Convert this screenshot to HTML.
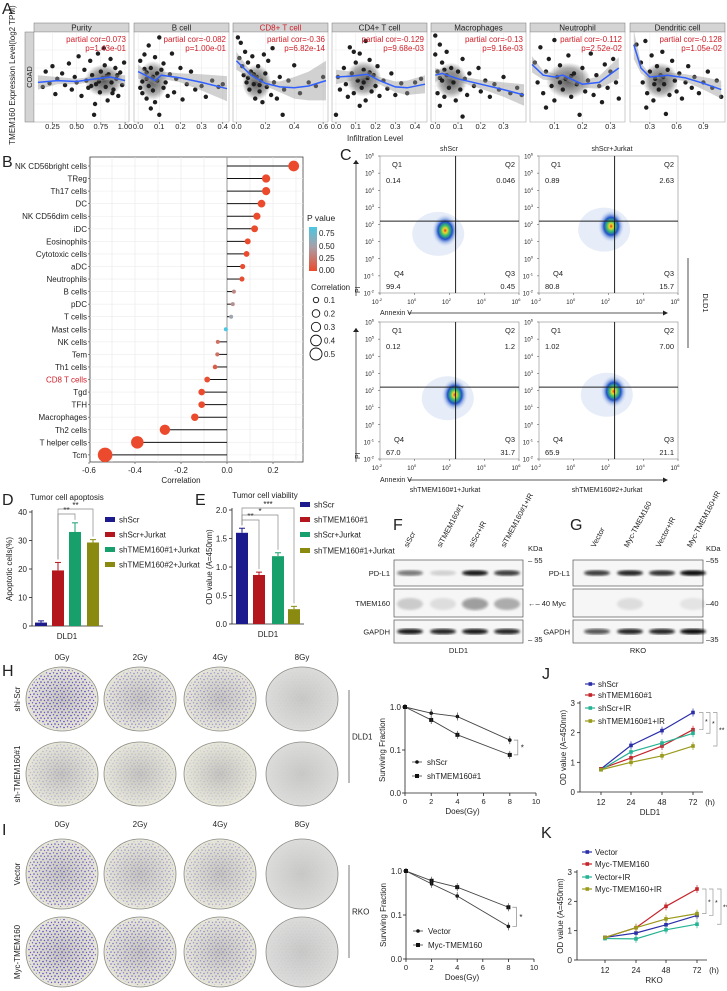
<!DOCTYPE html>
<html><head><meta charset="utf-8">
<style>
html,body{margin:0;padding:0;background:#fff;}
svg{display:block;font-family:"Liberation Sans",Arial,sans-serif;}
</style></head>
<body>
<svg id="fig" width="727" height="991" viewBox="0 0 727 991" xmlns="http://www.w3.org/2000/svg">
<defs>
<linearGradient id="pgrad" x1="0" y1="0" x2="0" y2="1"><stop offset="0" stop-color="#4cc6e2"/><stop offset="0.45" stop-color="#a8a0a8"/><stop offset="1" stop-color="#ec4a2c"/></linearGradient>
<radialGradient id="plateG"><stop offset="0" stop-color="#c4c4be"/><stop offset="0.8" stop-color="#e0e0d4"/><stop offset="1" stop-color="#e8e7da"/></radialGradient>
<radialGradient id="plate8"><stop offset="0" stop-color="#c8c8c6"/><stop offset="1" stop-color="#dcdcda"/></radialGradient>
<radialGradient id="blobG"><stop offset="0" stop-color="#e33a1a"/><stop offset="0.15" stop-color="#f2d52a"/><stop offset="0.32" stop-color="#3cc06a"/><stop offset="0.55" stop-color="#2050c8"/><stop offset="0.78" stop-color="#7fa0e0" stop-opacity="0.5"/><stop offset="1" stop-color="#c0d0f0" stop-opacity="0"/></radialGradient>
<radialGradient id="cloudG"><stop offset="0" stop-color="#1e1e1e" stop-opacity="0.75"/><stop offset="0.7" stop-color="#1e1e1e" stop-opacity="0.35"/><stop offset="1" stop-color="#1e1e1e" stop-opacity="0"/></radialGradient>
<pattern id="colony" width="7" height="6" patternUnits="userSpaceOnUse"><circle cx="1" cy="1.5" r="0.8" fill="#5440c8"/><circle cx="4.5" cy="0.8" r="0.7" fill="#6a48c8"/><circle cx="6" cy="4" r="0.8" fill="#4a3cc0"/><circle cx="2.5" cy="4.5" r="0.7" fill="#7a50c8"/></pattern>
<filter id="blur1"><feGaussianBlur stdDeviation="1.2"/></filter>
</defs>
</svg>
<script>
// ---------------- DATA ----------------
const aTitles = ['Purity','B cell','CD8+ T cell','CD4+ T cell','Macrophages','Neutrophil','Dendritic cell'];
const aCor = ['partial cor=0.073','partial cor=-0.082','partial cor=-0.36','partial cor=-0.129','partial cor=-0.13','partial cor=-0.112','partial cor=-0.128'];
const aPval = ['p=1.43e-01','p=1.00e-01','p=6.82e-14','p=9.68e-03','p=9.16e-03','p=2.52e-02','p=1.05e-02'];
const aDomain = [[0.08,1.02],[-0.01,0.42],[-0.01,0.62],[-0.01,0.45],[-0.01,0.39],[0.02,0.345],[0.1,1.12]];
const aTicks = [[0.25,0.5,0.75,1.0],[0,0.1,0.2,0.3,0.4],[0,0.2,0.4,0.6],[0,0.1,0.2,0.3,0.4],[0,0.1,0.2,0.3],[0.1,0.2,0.3],[0.3,0.6,0.9]];
const aTickLabels = [['0.25','0.50','0.75','1.00'],['0.0','0.1','0.2','0.3','0.4'],['0.0','0.2','0.4','0.6'],['0.0','0.1','0.2','0.3','0.4'],['0.0','0.1','0.2','0.3'],['0.1','0.2','0.3'],['0.3','0.6','0.9']];
// dense-cloud centre [x, y, x-spread, y-spread] in data units
const aCloud = [[0.78,4.6,0.2,1.8],[0.07,4.6,0.07,2.2],[0.14,4.4,0.1,2.0],[0.14,4.8,0.09,2.0],[0.07,4.6,0.07,2.0],[0.15,4.6,0.08,2.0],[0.42,4.6,0.2,2.0]];
const aPts = [
[[0.15,3.9],[0.18,5.6],[0.22,4.3],[0.25,6.2],[0.28,3.1],[0.3,4.8],[0.35,5.4],[0.38,4.1],[0.42,6.5],[0.45,3.6],[0.48,5.0],[0.5,4.4],[0.52,7.3],[0.55,2.9],[0.58,5.8],[0.6,4.6],[0.62,3.8],[0.64,6.8],[0.66,5.2],[0.68,0.8],[0.7,4.2],[0.72,7.6],[0.74,3.3],[0.75,5.6],[0.77,4.9],[0.79,6.3],[0.8,3.9],[0.82,2.4],[0.83,5.3],[0.85,7.0],[0.86,4.4],[0.88,3.6],[0.9,6.0],[0.91,4.8],[0.93,2.9],[0.95,5.5],[0.97,4.1],[0.99,6.6],[0.78,8.2],[0.69,2.0],[0.73,4.5],[0.81,5.1],[0.87,3.2],[0.65,4.0],[0.92,5.2]],
[[0.01,6.8],[0.02,4.5],[0.02,3.2],[0.03,7.5],[0.04,5.5],[0.04,2.6],[0.05,8.5],[0.05,4.0],[0.06,6.0],[0.07,3.5],[0.07,5.0],[0.08,7.2],[0.08,2.2],[0.09,4.6],[0.1,9.4],[0.1,0.8],[0.11,5.8],[0.12,3.8],[0.12,6.5],[0.13,4.4],[0.14,2.9],[0.15,5.3],[0.16,7.6],[0.17,3.3],[0.18,4.8],[0.2,6.0],[0.21,2.5],[0.23,4.2],[0.25,5.6],[0.27,3.6],[0.3,4.0],[0.32,2.8],[0.35,4.6],[0.38,3.9],[0.4,4.2],[0.03,5.9],[0.06,1.5],[0.04,4.8],[0.09,5.4],[0.01,3.8]],
[[0.01,9.4],[0.02,7.1],[0.03,8.8],[0.04,6.2],[0.05,5.2],[0.06,7.8],[0.07,4.4],[0.08,6.6],[0.09,3.6],[0.1,5.6],[0.11,7.3],[0.12,4.2],[0.13,2.6],[0.14,5.0],[0.15,6.2],[0.16,3.4],[0.17,4.6],[0.18,2.2],[0.2,5.4],[0.21,3.9],[0.22,6.8],[0.24,3.0],[0.26,4.4],[0.28,2.6],[0.3,5.0],[0.32,0.8],[0.33,3.6],[0.36,4.6],[0.4,6.3],[0.44,3.2],[0.5,4.4],[0.55,4.0],[0.6,5.0],[0.19,7.5],[0.25,8.2],[0.08,4.9],[0.12,5.3],[0.16,4.1]],
[[0.0,0.8],[0.01,5.0],[0.02,3.6],[0.04,6.0],[0.05,4.2],[0.06,2.8],[0.07,8.3],[0.08,5.4],[0.09,3.2],[0.1,6.6],[0.11,4.6],[0.12,7.6],[0.13,3.8],[0.14,5.8],[0.15,9.0],[0.15,2.4],[0.16,4.9],[0.17,6.9],[0.18,3.4],[0.19,5.2],[0.2,4.0],[0.21,6.2],[0.22,2.9],[0.24,4.6],[0.26,3.7],[0.28,5.4],[0.3,3.0],[0.33,4.3],[0.36,3.2],[0.4,4.4],[0.43,4.8],[0.12,1.8],[0.09,7.8],[0.14,4.4],[0.17,5.5]],
[[0.0,9.6],[0.0,7.5],[0.01,5.6],[0.01,3.2],[0.02,8.6],[0.02,1.8],[0.03,4.6],[0.03,6.6],[0.04,2.8],[0.05,5.2],[0.05,7.8],[0.06,3.8],[0.07,6.0],[0.08,4.4],[0.09,2.4],[0.1,5.6],[0.11,3.6],[0.12,7.0],[0.13,4.8],[0.14,3.0],[0.15,5.4],[0.17,4.0],[0.19,6.0],[0.2,3.4],[0.22,4.6],[0.24,2.8],[0.26,4.2],[0.28,3.6],[0.3,5.0],[0.33,3.2],[0.36,3.8],[0.38,3.0],[0.12,0.6],[0.02,4.9],[0.04,5.8]],
[[0.03,6.6],[0.04,4.4],[0.05,8.3],[0.06,3.2],[0.07,5.6],[0.08,7.0],[0.09,4.0],[0.1,9.1],[0.1,2.4],[0.11,5.0],[0.12,6.3],[0.13,3.6],[0.14,4.8],[0.15,7.4],[0.16,2.8],[0.17,5.4],[0.18,4.2],[0.19,0.8],[0.2,6.0],[0.21,3.4],[0.22,4.6],[0.23,7.6],[0.24,3.0],[0.25,5.2],[0.26,4.0],[0.27,2.2],[0.28,6.4],[0.29,3.8],[0.3,5.6],[0.31,7.0],[0.32,4.4],[0.33,2.6],[0.07,1.6],[0.12,4.4],[0.16,5.1]],
[[0.15,8.6],[0.2,6.6],[0.22,4.4],[0.25,9.0],[0.27,3.2],[0.3,5.6],[0.32,7.4],[0.34,2.4],[0.36,4.8],[0.38,6.2],[0.4,3.6],[0.42,5.2],[0.44,7.8],[0.46,4.2],[0.48,0.9],[0.5,5.8],[0.52,3.0],[0.55,6.8],[0.58,4.6],[0.6,3.4],[0.63,5.4],[0.66,2.6],[0.7,4.4],[0.73,6.2],[0.77,3.8],[0.8,5.0],[0.85,3.2],[0.9,4.4],[0.95,5.6],[1.0,3.8],[1.05,4.6],[1.1,2.8],[0.26,1.6],[0.35,4.2],[0.45,5.0]]
];
const aLoessX = [[0.1,0.3,0.5,0.7,0.85,1.0],[0,0.05,0.08,0.11,0.2,0.3,0.42],[0,0.1,0.2,0.3,0.4,0.5,0.62],[0,0.08,0.16,0.22,0.3,0.36,0.45],[0,0.03,0.1,0.2,0.3,0.39],[0.02,0.06,0.1,0.13,0.2,0.26,0.33],[0.12,0.2,0.3,0.5,0.7,0.9,1.1]];
const aLoessY = [[4.4,4.6,4.5,4.8,5.0,4.6],[5.6,5.0,4.6,5.2,4.9,4.4,3.7],[6.8,5.2,4.3,3.9,3.8,4.0,4.6],[5.0,5.1,5.3,4.6,3.9,3.8,4.2],[5.2,5.4,4.8,4.2,3.6,3.0],[6.4,5.2,5.0,5.2,4.2,4.4,6.0],[8.6,6.0,5.0,5.2,4.9,4.3,3.6]];
const aBand = [[0.8,0.4,0.3,0.3,0.3,0.6],[0.8,0.4,0.4,0.4,0.5,0.9,1.4],[1.0,0.4,0.3,0.6,1.2,1.6,2.2],[0.8,0.5,0.4,0.4,0.6,0.8,1.0],[0.8,0.4,0.3,0.5,0.8,1.2],[0.9,0.5,0.4,0.4,0.4,0.7,1.2],[1.6,0.6,0.3,0.3,0.4,0.7,1.0]];

const bCells = ['NK CD56bright cells','TReg','Th17 cells','DC','NK CD56dim cells','iDC','Eosinophils','Cytotoxic cells','aDC','Neutrophils','B cells','pDC','T cells','Mast cells','NK cells','Tem','Th1 cells','CD8 T cells','Tgd','TFH','Macrophages','Th2 cells','T helper cells','Tcm'];
const bCorr = [0.29,0.17,0.17,0.15,0.13,0.12,0.09,0.085,0.068,0.065,0.03,0.025,0.018,-0.005,-0.04,-0.042,-0.052,-0.086,-0.11,-0.11,-0.14,-0.27,-0.39,-0.53];
const bPval = [0,0,0,0,0,0,0,0,0.02,0.02,0.35,0.4,0.55,0.9,0.22,0.22,0.1,0.03,0,0,0,0,0,0];
const bTicks = [-0.6,-0.4,-0.2,0.0,0.2];

const cTitles = ['shScr','shScr+Jurkat','shTMEM160#1+Jurkat','shTMEM160#2+Jurkat'];
const cQ1 = ['0.14','0.89','0.12','1.02'];
const cQ2 = ['0.046','2.63','1.2','7.00'];
const cQ3 = ['0.45','15.7','31.7','21.1'];
const cQ4 = ['99.4','80.8','67.0','65.9'];
const cBlobX = [1.75,2.15,2.3,2.3];
const cBlobY = [1.65,1.9,1.75,1.95];

const dGroups = ['shScr','shScr+Jurkat','shTMEM160#1+Jurkat','shTMEM160#2+Jurkat'];
const dVals = [1.2,19.5,33.0,29.3];
const dErr = [0.6,2.8,3.2,1.0];
const dTicks = [0,10,20,30,40];
const eGroups = ['shScr','shTMEM160#1','shScr+Jurkat','shTMEM160#1+Jurkat'];
const eVals = [1.6,0.86,1.19,0.26];
const eErr = [0.08,0.05,0.06,0.05];
const eTicks = [0,0.5,1.0,1.5,2.0];
const barColors = ['#1b1b8e','#b3161c','#17a06c','#8a8a10'];

const fLanes = ['siScr','siTMEM160#1','siScr+IR','siTMEM160#1+IR'];
const fPDL1 = [0.55,0.15,0.95,0.8];
const fTMEM = [0.35,0.2,0.8,0.6];
const fGAPDH = [0.95,0.9,0.95,0.9];
const gLanes = ['Vector','Myc-TMEM160','Vector+IR','Myc-TMEM160+IR'];
const gPDL1 = [0.8,0.9,0.85,1.0];
const gMyc = [0,0.2,0,0.15];
const gGAPDH = [0.7,0.9,0.9,1.0];

const doses = ['0Gy','2Gy','4Gy','8Gy'];
const hRow1 = [1.0,0.55,0.5,0.03];
const hRow2 = [0.3,0.22,0.16,0.02];
const iRow1 = [0.85,0.45,0.4,0.02];
const iRow2 = [1.0,0.7,0.55,0.05];

const survDose = [0,2,4,8];
const hScr = [1.0,0.72,0.6,0.17];
const hTM = [1.0,0.5,0.225,0.077];
const iVec = [1.0,0.51,0.27,0.055];
const iMyc = [1.0,0.6,0.43,0.15];

const timeCats = ['12','24','48','72'];
const jScr = [0.78,1.57,2.07,2.68];
const jTM = [0.78,1.15,1.55,2.1];
const jScrIR = [0.75,1.35,1.65,1.98];
const jTMIR = [0.75,1.0,1.22,1.55];
const kVec = [0.77,0.92,1.2,1.52];
const kMyc = [0.77,1.1,1.83,2.42];
const kVecIR = [0.73,0.72,1.03,1.22];
const kMycIR = [0.77,1.1,1.4,1.58];
const lineColors = ['#2a2ea8','#c4252b','#26b394','#9a9a1c'];

// ---------------- HELPERS ----------------
const NS='http://www.w3.org/2000/svg';
const svg=document.getElementById('fig');
function el(tag,attrs,parent){const e=document.createElementNS(NS,tag);for(const k in attrs)e.setAttribute(k,attrs[k]);(parent||svg).appendChild(e);return e;}
function nm(e,n){
  
  
  return e;}
function grp(n){const g=el('g',{});nm(g,n);return g;}
function T(p,x,y,s,size,opt){opt=opt||{};const t=el('text',{x:x,y:y,'font-size':size,fill:opt.fill||'#222','text-anchor':opt.anchor||'start'},p);if(opt.rot!==undefined)t.setAttribute('transform','rotate('+opt.rot+' '+x+' '+y+')');t.textContent=s;nm(t,opt.name||'label');return t;}
function L(p,x1,y1,x2,y2,c,w,n){const l=el('line',{x1:x1,y1:y1,x2:x2,y2:y2,stroke:c||'#222','stroke-width':w||0.8},p);nm(l,n||'line');return l;}
function lin(d0,d1,r0,r1){return v=>r0+(v-d0)/(d1-d0)*(r1-r0);}

[['A',2,14],['B',2,167],['C',340,160],['D',2,505],['E',195,505],['F',393,530],['G',570,530],['H',2,676],['I',2,835],['J',542,679],['K',541,838]].forEach(a=>{T(svg,a[1],a[2],a[0],16,{name:'panel-label-'+a[0].toLowerCase()});});

// ---------------- PANEL A ----------------
(function(){
  const g=grp('panel-a-scatter');
  const lefts=[34,134,233,332,431,530,630], W=95, top=32, bot=122;
  const ys=lin(0,10,bot,top);
  T(g,15,75,'TMEM160 Expression Level(log2 TPM)',8,{anchor:'middle',rot:-90,name:'y-axis-title'});
  const cs=el('rect',{x:25,y:top,width:9,height:bot-top,fill:'#d4d4d4',stroke:'#777','stroke-width':0.5},g);nm(cs,'coad-strip');
  T(g,32,77,'COAD',7.5,{anchor:'middle',rot:-90,name:'coad-label'});
  aTitles.forEach((title,i)=>{
    const x0=lefts[i], xs=lin(aDomain[i][0],aDomain[i][1],x0+2,x0+W-2);
    const pg=grp('facet-'+title.toLowerCase().replace(/[^a-z0-9]+/g,'-'));
    const s=el('rect',{x:x0,y:23,width:W,height:9,fill:'#d4d4d4',stroke:'#777','stroke-width':0.5},pg);nm(s,'facet-strip');
    T(pg,x0+W/2,30.5,title,8,{anchor:'middle',fill:i==2?'#d0202a':'#222',name:'facet-title'});
    const pr=el('rect',{x:x0,y:top,width:W,height:bot-top,fill:'#fff',stroke:'#999','stroke-width':0.5},pg);nm(pr,'plot-area');
    aTicks[i].forEach((t,k)=>{const x=xs(t);L(pg,x,top,x,bot,'#ebebeb',0.6,'grid-x');L(pg,x,bot,x,bot+2,'#444',0.6,'x-tick');T(pg,x,129,aTickLabels[i][k],7.5,{anchor:'middle',name:'x-tick-label'});});
    [2,4,6,8].forEach(v=>L(pg,x0,ys(v),x0+W,ys(v),'#ebebeb',0.6,'grid-y'));
    const cl=aCloud[i];
    const cel=el('ellipse',{cx:xs(cl[0]),cy:ys(cl[1]),rx:Math.abs(xs(cl[0]+cl[2])-xs(cl[0])),ry:Math.abs(ys(cl[1]+cl[3])-ys(cl[1])),fill:'url(#cloudG)'},pg);nm(cel,'dense-point-cloud');
    aPts[i].forEach(p=>{const c=el('circle',{cx:xs(p[0]),cy:ys(p[1]),r:2.2,fill:'#1e1e1e'},pg);nm(c,'scatter-point');});
    const lx=aLoessX[i], ly=aLoessY[i], b=aBand[i];
    let d='M'+lx.map((x,k)=>xs(x)+','+ys(ly[k]+b[k])).join(' L')+' L'+lx.map((x,k)=>xs(x)+','+ys(ly[k]-b[k])).reverse().join(' L')+'Z';
    const rb=el('path',{d:d,fill:'#999','fill-opacity':0.45},pg);nm(rb,'confidence-ribbon');
    const ln=el('polyline',{points:lx.map((x,k)=>xs(x)+','+ys(ly[k])).join(' '),fill:'none',stroke:'#3060ff','stroke-width':1.5},pg);nm(ln,'loess-line');
    T(pg,x0+W-3,42,aCor[i],8,{anchor:'end',fill:'#d0202a',name:'partial-cor'});
    T(pg,x0+W-3,51,aPval[i],8,{anchor:'end',fill:'#d0202a',name:'p-value'});
  });
  T(g,375,141,'Infiltration Level',8,{anchor:'middle',name:'x-axis-title'});
})();

// ---------------- PANEL B ----------------
(function(){
  const g=grp('panel-b-lollipop');
  const x0=90,x1=303,top=157,bot=462;
  const xs=lin(0,1,227,227+230);
  const ys=i=>166+i*12.56;
  const fr=el('rect',{x:x0,y:top,width:x1-x0,height:bot-top,fill:'#fff',stroke:'#444','stroke-width':0.8},g);nm(fr,'plot-area');
  [-0.6,-0.5,-0.4,-0.3,-0.2,-0.1,0.1,0.2,0.3].forEach(v=>L(g,xs(v),top,xs(v),bot,'#e6e6e6',0.6,'grid-x'));
  bCells.forEach((c,i)=>L(g,x0,ys(i),x1,ys(i),'#ececec',0.6,'grid-y'));
  L(g,xs(0),top,xs(0),bot,'#9a9a9a',1,'zero-line');
  function pcol(p){const a=[236,74,44],m=[168,160,168],c=[76,198,226];let t,u,v;if(p<0.5){t=p/0.5;u=a;v=m;}else{t=Math.min(1,(p-0.5)/0.4);u=m;v=c;}return 'rgb('+u.map((q,k)=>Math.round(q+(v[k]-q)*t)).join(',')+')';}
  bCells.forEach((c,i)=>{
    const y=ys(i);
    L(g,x0-2,y,x0,y,'#444',0.6,'y-tick');
    T(g,x0-3,y+3,c,8,{anchor:'end',fill:c==='CD8 T cells'?'#d0202a':'#222',name:'cell-label'});
    L(g,xs(0),y,xs(bCorr[i]),y,'#111',1,'lollipop-stem');
    const dot=el('circle',{cx:xs(bCorr[i]),cy:y,r:Math.max(2,Math.sqrt(Math.abs(bCorr[i]))*10),fill:pcol(bPval[i])},g);nm(dot,'lollipop-dot');
  });
  bTicks.forEach(t=>{L(g,xs(t),bot,xs(t),bot+2,'#444',0.6,'x-tick');T(g,xs(t),473,t.toFixed(1),8,{anchor:'middle',name:'x-tick-label'});});
  T(g,xs(-0.2),483,'Correlation',8,{anchor:'middle',name:'x-axis-title'});
  const lg=grp('legend-b');
  T(lg,307,221,'P value',8.5,{name:'legend-title'});
  const gr=el('rect',{x:309,y:227,width:8,height:44,fill:'url(#pgrad)'},lg);nm(gr,'p-value-colorbar');
  [['0.75',236],['0.50',249],['0.25',261],['0.00',273]].forEach(a=>T(lg,319,a[1],a[0],8,{name:'colorbar-label'}));
  T(lg,311,290,'Correlation',8,{name:'legend-title'});
  [0.1,0.2,0.3,0.4,0.5].forEach((v,k)=>{const cy=300+k*13.5;const c=el('circle',{cx:316,cy:cy,r:Math.sqrt(v)*8.5,fill:'none',stroke:'#111','stroke-width':0.9},lg);nm(c,'size-legend-circle');T(lg,324,cy+3,String(v),8,{name:'size-legend-label'});});
})();

// ---------------- PANEL C ----------------
(function(){
  const g=grp('panel-c-flow');
  const boxes=[[380,156],[539,156],[380,322],[539,322]], W=139, H=137;
  cTitles.forEach((t,i)=>{
    const [x0,y0]=boxes[i];
    const pg=grp('flow-plot');
    const xs=lin(-2,6,x0,x0+W), ys=lin(-2,6,y0+H,y0);
    const r=el('rect',{x:x0,y:y0,width:W,height:H,fill:'#fff',stroke:'#888','stroke-width':0.6},pg);nm(r,'plot-area');
    const halo=el('ellipse',{cx:xs(cBlobX[i]-0.4),cy:ys(cBlobY[i]-0.2),rx:26,ry:22,fill:'#b8c8ea','fill-opacity':0.35},pg);nm(halo,'sparse-events');
    const b=el('ellipse',{cx:xs(cBlobX[i]),cy:ys(cBlobY[i]),rx:13,ry:16,fill:'url(#blobG)'},pg);nm(b,'cell-population');
    L(pg,xs(2.35),y0,xs(2.35),y0+H,'#222',1,'gate-vertical');
    L(pg,x0,ys(2.2),x0+W,ys(2.2),'#222',1,'gate-horizontal');
    for(let k=-2;k<=6;k++){L(pg,x0-2,ys(k),x0,ys(k),'#444',0.5,'y-tick');const t1=T(pg,x0-6,ys(k)+2.5,'10',6,{anchor:'end',name:'y-tick-label'});const s=el('tspan',{dy:-3,'font-size':4},t1);s.textContent=String(k);}
    for(let k=-2;k<=6;k+=2){L(pg,xs(k),y0+H,xs(k),y0+H+2,'#444',0.5,'x-tick');const t1=T(pg,xs(k)-3,y0+H+11,'10',6,{anchor:'middle',name:'x-tick-label'});const s=el('tspan',{dy:-3,'font-size':4},t1);s.textContent=String(k);}
    T(pg,x0+12,y0+11,'Q1',7.5,{name:'q1-label'});T(pg,x0+6,y0+27,cQ1[i],7.5,{name:'q1-value'});
    T(pg,x0+W-4,y0+11,'Q2',7.5,{anchor:'end',name:'q2-label'});T(pg,x0+W-4,y0+27,cQ2[i],7.5,{anchor:'end',name:'q2-value'});
    T(pg,x0+14,y0+H-17,'Q4',7.5,{name:'q4-label'});T(pg,x0+6,y0+H-4,cQ4[i],7.5,{name:'q4-value'});
    T(pg,x0+W-4,y0+H-17,'Q3',7.5,{anchor:'end',name:'q3-label'});T(pg,x0+W-4,y0+H-4,cQ3[i],7.5,{anchor:'end',name:'q3-value'});
  });
  T(g,449,151,cTitles[0],7,{anchor:'middle',name:'plot-title'});
  T(g,612,151,cTitles[1],7,{anchor:'middle',name:'plot-title'});
  T(g,445,492,cTitles[2],7,{anchor:'middle',name:'plot-title'});
  T(g,607,492,cTitles[3],7,{anchor:'middle',name:'plot-title'});
  [[296,160],[462,328]].forEach(a=>{L(g,356,a[0],356,a[1],'#222',0.7,'pi-axis-arrow');const p=el('path',{d:'M353,'+(a[1]+4)+' L356,'+a[1]+' L359,'+(a[1]+4)+'Z',fill:'#222'},g);nm(p,'arrow-head');T(g,360,a[0]-3,'PI',7,{rot:-90,name:'pi-label'});});
  [313,480].forEach(y=>{L(g,408,y,663,y,'#222',0.7,'annexin-axis-arrow');const p=el('path',{d:'M663,'+(y-2.5)+' L668,'+y+' L663,'+(y+2.5)+'Z',fill:'#222'},g);nm(p,'arrow-head');T(g,380,y+2,'Annexin V',7,{name:'annexin-label'});});
  L(g,688,258,688,348,'#222',0.8,'group-bracket');
  T(g,703,303,'DLD1',7.5,{anchor:'middle',rot:90,name:'cell-line-label'});
})();

// ---------------- PANEL D & E ----------------
function barChart(name,vals,errs,ticks,tickFmt,ax,yTop,yBot,dMax,centers,title,titleX,ylab,legendX,legendY,brackets,labels){
  const g=grp(name);
  const ys=lin(0,dMax,yBot,yTop);
  L(g,ax,yTop-2,ax,yBot,'#222',0.8,'y-axis');
  L(g,ax,yBot,centers[3]+10,yBot,'#222',0.8,'x-axis');
  ticks.forEach(t=>{L(g,ax-3,ys(t),ax,ys(t),'#222',0.8,'y-tick');T(g,ax-5,ys(t)+3,tickFmt(t),8,{anchor:'end',name:'y-tick-label'});});
  vals.forEach((v,i)=>{
    const r=el('rect',{x:centers[i]-6,y:ys(v),width:12,height:yBot-ys(v),fill:barColors[i]},g);nm(r,'bar-'+labels[i].toLowerCase().replace(/[^a-z0-9]+/g,'-'));
    L(g,centers[i],ys(v),centers[i],ys(v+errs[i]),barColors[i],1,'error-bar');
    L(g,centers[i]-3,ys(v+errs[i]),centers[i]+3,ys(v+errs[i]),barColors[i],1,'error-cap');
  });
  T(g,titleX,yTop-12,title,8,{anchor:'middle',name:'chart-title'});
  T(g,(centers[0]+centers[3])/2,yBot+13,'DLD1',8,{anchor:'middle',name:'x-axis-label'});
  T(g,ax-20,(yTop+yBot)/2,ylab,8,{anchor:'middle',rot:-90,name:'y-axis-title'});
  labels.forEach((l,i)=>{const r=el('rect',{x:legendX,y:legendY[i]-4,width:10,height:5,fill:barColors[i]},g);nm(r,'legend-swatch');T(g,legendX+14,legendY[i]+1.5,l,8,{name:'legend-label'});});
  brackets.forEach(b=>{const [i,j,yb,s]=b;const p=el('polyline',{points:centers[i]+','+(ys(vals[i]+errs[i])-3)+' '+centers[i]+','+yb+' '+centers[j]+','+yb+' '+centers[j]+','+(ys(vals[j]+errs[j])-3),fill:'none',stroke:'#888','stroke-width':0.7},g);nm(p,'significance-bracket');T(g,(centers[i]+centers[j])/2,yb-1,s,8,{anchor:'middle',name:'significance-stars'});});
}
barChart('panel-d-apoptosis',dVals,dErr,dTicks,t=>String(t),32,512,626,40,[41,58,75,93],'Tumor cell apoptosis',67,'Apoptotic cells(%)',105,[521,536,551,566],[[1,2,514,'**'],[1,3,509,'**']],dGroups);
barChart('panel-e-viability',eVals,eErr,eTicks,t=>t.toFixed(1),232,510,624,2.0,[242,259,278,294],'Tumor cell viability',265,'OD value (A=450nm)',300,[506,521,536,552],[[0,1,520,'**'],[0,2,515,'*'],[0,3,508,'***']],eGroups);

// ---------------- PANEL F & G ----------------
function blot(name,x0,x1,lanes,laneX,rows,rowLabels,rowY,labelX,kda,kdaX,cellLine){
  const g=grp(name);
  lanes.forEach((l,i)=>T(g,laneX[i]-2,548,l,7.5,{rot:-62,fill:'#222',name:'lane-label'}));
  rows.forEach((vals,r)=>{
    const [y0,y1]=rowY[r];
    const b=el('rect',{x:x0,y:y0,width:x1-x0,height:y1-y0,fill:'#f6f6f6',stroke:'#555','stroke-width':0.7},g);nm(b,'blot-box');
    T(g,labelX,(y0+y1)/2+3,rowLabels[r],7.5,{anchor:'end',name:'protein-label'});
    vals.forEach((v,i)=>{if(v<=0)return;const e=el('ellipse',{cx:laneX[i],cy:(y0+y1)/2+(r==1?1:0),rx:13,ry:r==1?6:2.8,fill:'#111','fill-opacity':Math.min(1,v*(r==1?0.5:1)),filter:'url(#blur1)'},g);nm(e,'band');});
  });
  kda.forEach(k=>T(g,kdaX,k[1],k[0],7.5,{name:'kda-marker'}));
  T(g,(x0+x1)/2,653,cellLine,7.5,{anchor:'middle',name:'cell-line-label'});
}
blot('panel-f-western',394,523,fLanes,[410,443,475,507],[fPDL1,fTMEM,fGAPDH],['PD-L1','TMEM160','GAPDH'],[[560,586],[589,617],[620,643]],390,[['KDa',551],['– 55',563],['←– 40 Myc',606],['– 35',642]],528,'DLD1');
blot('panel-g-western',573,703,gLanes,[597,630,662,693],[gPDL1,gMyc,gGAPDH],['PD-L1','','GAPDH'],[[560,586],[589,617],[620,643]],570,[['KDa',551],['–55',563],['–40',606],['–35',642]],706,'RKO');

// ---------------- PANEL H & I ----------------
function colonies(name,labelY,rows,rowY,rowNames,ry,lineLabel,lineY){
  const g=grp(name);
  const cx=[62,140,220,302];
  doses.forEach((d,i)=>T(g,cx[i],labelY,d,8,{anchor:'middle',name:'dose-label'}));
  rows.forEach((row,r)=>{
    T(g,20,rowY[r],rowNames[r],8,{anchor:'middle',rot:-90,name:'row-label'});
    row.forEach((dens,i)=>{
      const p=el('ellipse',{cx:cx[i],cy:rowY[r],rx:36,ry:ry,fill:i==3?'url(#plate8)':'url(#plateG)',stroke:'#8a8a86','stroke-width':0.8},g);nm(p,'culture-plate');
      const c=el('ellipse',{cx:cx[i],cy:rowY[r],rx:34,ry:ry-2,fill:'url(#colony)','fill-opacity':Math.min(1,dens)},g);nm(c,'colonies');
    });
  });
  L(g,349,lineY[0],349,lineY[1],'#555',0.8,'group-bracket');
  T(g,352,(lineY[0]+lineY[1])/2+3,lineLabel,8,{name:'cell-line-label'});
}
colonies('panel-h-colony',660,[hRow1,hRow2],[699,774],['shi-Scr','sh-TMEM160#1'],32,'DLD1',[690,783]);
colonies('panel-i-colony',827,[iRow1,iRow2],[874,952],['Vector','Myc-TMEM160'],35,'RKO',[865,958]);

// ---------------- SURVIVAL ----------------
function survival(name,xL,xR,y1,dec,s1,s2,n1,n2,legY){
  const g=grp(name);
  const xs=lin(0,10,xL,xR);
  const yb=y1+2*dec;
  L(g,xL,y1-3,xL,yb,'#222',0.8,'y-axis');L(g,xL,yb,xR,yb,'#222',0.8,'x-axis');
  [['1.0',y1],['0.1',y1+dec],['0.0',yb]].forEach(a=>{L(g,xL-3,a[1],xL,a[1],'#222',0.8,'y-tick');T(g,xL-4,a[1]+3,a[0],8,{anchor:'end',name:'y-tick-label'});});
  [0,2,4,6,8,10].forEach(t=>{L(g,xs(t),yb,xs(t),yb+3,'#222',0.8,'x-tick');T(g,xs(t),yb+11,String(t),7.5,{anchor:'middle',name:'x-tick-label'});});
  T(g,(xL+xR)/2-8,yb+21,'Does(Gy)',8,{anchor:'middle',name:'x-axis-title'});
  T(g,xL-20,(y1+yb)/2,'Surviving Fraction',8,{anchor:'middle',rot:-90,name:'y-axis-title'});
  const yy=v=>y1-Math.log10(v)*dec;
  [[s1,'circle'],[s2,'rect']].forEach(sr=>{
    const pl=el('polyline',{points:survDose.map((d,k)=>xs(d)+','+yy(sr[0][k])).join(' '),fill:'none',stroke:'#444','stroke-width':0.9},g);nm(pl,'survival-line');
    survDose.forEach((d,k)=>{const m=sr[1]==='circle'?el('circle',{cx:xs(d),cy:yy(sr[0][k]),r:1.8,fill:'#111'},g):el('rect',{x:xs(d)-2,y:yy(sr[0][k])-2,width:4,height:4,fill:'#111'},g);nm(m,'survival-point');if(d>0){L(g,xs(d),yy(sr[0][k])-4,xs(d),yy(sr[0][k])+4,'#333',0.6,'error-bar');}});
  });
  const ya=yy(s1[3]),yb2=yy(s2[3]);
  const br=el('polyline',{points:(xs(8)+4)+','+Math.min(ya,yb2)+' '+(xs(8)+8)+','+Math.min(ya,yb2)+' '+(xs(8)+8)+','+Math.max(ya,yb2)+' '+(xs(8)+4)+','+Math.max(ya,yb2),fill:'none',stroke:'#888','stroke-width':0.7},g);nm(br,'significance-bracket');
  T(g,xs(8)+11,(ya+yb2)/2+3,'*',8,{name:'significance-stars'});
  [[n1,'circle'],[n2,'rect']].forEach((a,k)=>{const y=legY+k*14;L(g,xL+7,y,xL+17,y,'#444',0.8,'legend-line');const m=a[1]==='circle'?el('circle',{cx:xL+12,cy:y,r:1.8,fill:'#111'},g):el('rect',{x:xL+10,y:y-2,width:4,height:4,fill:'#111'},g);nm(m,'legend-marker');T(g,xL+22,y+3,a[0],8,{name:'legend-label'});});
}
survival('panel-h-survival',405,536,707,43,hScr,hTM,'shScr','shTMEM160#1',762);
survival('panel-i-survival',406,534,871,44,iVec,iMyc,'Vector','Myc-TMEM160',931);

// ---------------- CCK8 J/K ----------------
function cck(name,ax,xPos,y3,y0,series,names,legY,cellLine,sig){
  const g=grp(name);
  const ys=lin(0,3,y0,y3);
  L(g,ax,y3-2,ax,y0,'#222',0.8,'y-axis');L(g,ax,y0,xPos[3]+10,y0,'#222',0.8,'x-axis');
  [0,1,2,3].forEach(t=>{L(g,ax-3,ys(t),ax,ys(t),'#222',0.8,'y-tick');T(g,ax-5,ys(t)+3,String(t),8,{anchor:'end',name:'y-tick-label'});});
  timeCats.forEach((c,i)=>{L(g,xPos[i],y0,xPos[i],y0+3,'#222',0.8,'x-tick');T(g,xPos[i],y0+13,c,8,{anchor:'middle',name:'x-tick-label'});});
  T(g,xPos[3]+17,y0+13,'(h)',8,{anchor:'middle',name:'x-unit'});
  T(g,(xPos[0]+xPos[3])/2+3,y0+23,cellLine,8,{anchor:'middle',name:'x-axis-title'});
  T(g,ax-14,(y3+y0)/2,'OD value (A=450nm)',8,{anchor:'middle',rot:-90,name:'y-axis-title'});
  series.forEach((s,k)=>{
    const pl=el('polyline',{points:s.map((v,i)=>xPos[i]+','+ys(v)).join(' '),fill:'none',stroke:lineColors[k],'stroke-width':1.2},g);nm(pl,'line-'+names[k].toLowerCase().replace(/[^a-z0-9]+/g,'-'));
    s.forEach((v,i)=>{const m=el('rect',{x:xPos[i]-1.8,y:ys(v)-1.8,width:3.6,height:3.6,fill:lineColors[k]},g);nm(m,'data-point');if(i>0)L(g,xPos[i],ys(v)-4,xPos[i],ys(v)+4,lineColors[k],0.7,'error-bar');});
    const y=legY[k];L(g,ax+5,y,ax+15,y,lineColors[k],1.2,'legend-line');const m=el('rect',{x:ax+8.5,y:y-1.8,width:3.6,height:3.6,fill:lineColors[k]},g);nm(m,'legend-marker');T(g,ax+18,y+3,names[k],8,{name:'legend-label'});
  });
  sig.forEach(b=>{const [a,c,dx,s]=b;const ya=ys(series[a][3]),yc=ys(series[c][3]);const x=xPos[3]+dx;const p=el('polyline',{points:(x-4)+','+ya+' '+x+','+ya+' '+x+','+yc+' '+(x-4)+','+yc,fill:'none',stroke:'#999','stroke-width':0.7},g);nm(p,'significance-bracket');T(g,x+2,(ya+yc)/2+3,s,7,{name:'significance-stars'});});
}
cck('panel-j-cck8',580,[601,631,662,693],703,792,[jScr,jTM,jScrIR,jTMIR],['shScr','shTMEM160#1','shScr+IR','shTMEM160#1+IR'],[684,695,708,721],'DLD1',[[0,1,10,'*'],[0,2,17,'*'],[0,3,24,'**']]);
cck('panel-k-cck8',577,[605,636,666,697],872,960,[kVec,kMyc,kVecIR,kMycIR],['Vector','Myc-TMEM160','Vector+IR','Myc-TMEM160+IR'],[852,864,877,889],'RKO',[[1,3,9,'*'],[1,0,16,'*'],[1,2,24,'**']]);
</script>
</body></html>
